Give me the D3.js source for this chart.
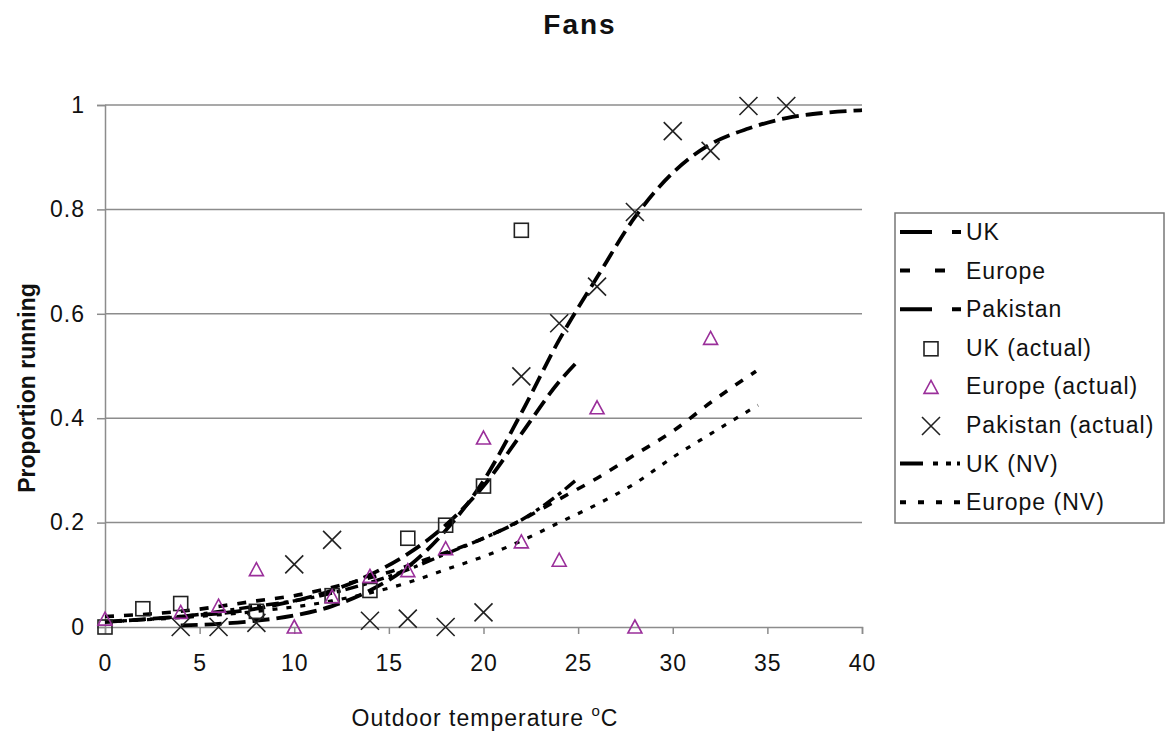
<!DOCTYPE html>
<html><head><meta charset="utf-8">
<script src="https://cdn.jsdelivr.net/npm/d3@7"></script>
<style>
body{margin:0;background:#fff}
svg{display:block}
text{font-family:"Liberation Sans",Arial,sans-serif;fill:#111}
</style>
</head><body>
<svg id="chart" width="1167" height="733"></svg>
<script>
// Axis ticks
const xTicks = [0, 5, 10, 15, 20, 25, 30, 35, 40];
const yTicks = [0, 0.2, 0.4, 0.6, 0.8, 1];
const yTickLabels = ["0", "0.2", "0.4", "0.6", "0.8", "1"];

// Measured proportions of fans running
const ukActualT = [0, 2, 4, 8, 12, 14, 16, 18, 20, 22];
const ukActualP = [0, 0.035, 0.045, 0.03, 0.06, 0.07, 0.17, 0.195, 0.27, 0.76];
const europeActualT = [0, 4, 6, 8, 10, 12, 14, 16, 18, 20, 22, 24, 26, 28, 32];
const europeActualP = [0.015, 0.028, 0.04, 0.11, 0, 0.058, 0.097, 0.108, 0.15, 0.362, 0.163, 0.128, 0.42, 0, 0.553];
const pakistanActualT = [4, 6, 8, 10, 12, 14, 16, 18, 20, 22, 24, 26, 28, 30, 32, 34, 36];
const pakistanActualP = [0, 0, 0.008, 0.12, 0.167, 0.012, 0.016, 0, 0.028, 0.48, 0.582, 0.652, 0.795, 0.95, 0.912, 0.998, 0.998];

// Fitted curves
const ukFitT = [0, 4, 8, 10, 12, 14, 16, 18, 20, 22, 24, 25];
const ukFitP = [0.01, 0.02, 0.035, 0.05, 0.07, 0.1, 0.14, 0.195, 0.27, 0.37, 0.47, 0.51];
const europeFitT = [0, 4, 8, 10, 13, 15, 17, 20, 22, 24, 26, 28, 30, 32, 34.4];
const europeFitP = [0.02, 0.03, 0.05, 0.06, 0.085, 0.105, 0.13, 0.17, 0.205, 0.245, 0.285, 0.33, 0.375, 0.43, 0.49];
const pakistanFitT = [4, 6, 8, 10, 12, 14, 16, 18, 20, 22, 24, 26, 28, 30, 32, 34, 36, 38, 40];
const pakistanFitP = [0.003, 0.006, 0.012, 0.022, 0.04, 0.07, 0.115, 0.185, 0.28, 0.41, 0.55, 0.67, 0.785, 0.87, 0.925, 0.955, 0.975, 0.985, 0.99];
const ukNvFitT = [0, 4, 8, 10, 12, 14, 16, 18, 20, 22, 24, 25];
const ukNvFitP = [0.01, 0.02, 0.04, 0.05, 0.065, 0.085, 0.11, 0.14, 0.17, 0.205, 0.255, 0.285];
const europeNvFitT = [0, 4, 8, 12, 16, 18, 20, 22, 24, 26, 28, 30, 32, 34.5];
const europeNvFitP = [0.01, 0.018, 0.03, 0.05, 0.085, 0.11, 0.135, 0.165, 0.2, 0.235, 0.275, 0.325, 0.37, 0.425];

const zip = (t, p) => t.map((v, i) => ({t: v, p: p[i]}));

const svg = d3.select("#chart");
const x = d3.scaleLinear().domain([0, 40]).range([105, 862]);
const y = d3.scaleLinear().domain([0, 1]).range([627, 105]);

const gridColor = "#8c8c8c";
const purple = "#9a2f9a";
const labelFont = "23px";

// Title
svg.append("text").attr("x", 580).attr("y", 34).attr("text-anchor", "middle")
  .style("font-size", "28px").style("font-weight", "bold").style("letter-spacing", "2px").text("Fans");

// Horizontal gridlines
svg.append("g").selectAll("line").data(yTicks.filter(d => d > 0)).join("line")
  .attr("x1", x(0)).attr("x2", x(40)).attr("y1", d => y(d)).attr("y2", d => y(d))
  .attr("stroke", gridColor).attr("stroke-width", 1.5);

// Axes
const xAxis = d3.axisBottom(x).tickValues(xTicks).tickSize(7).tickPadding(21).tickFormat(d3.format("d"));
const gx = svg.append("g").attr("transform", `translate(0,${y(0)})`).call(xAxis);
const yAxis = d3.axisLeft(y).tickValues(yTicks).tickSize(8).tickPadding(12)
  .tickFormat((d, i) => yTickLabels[i]);
const gy = svg.append("g").attr("transform", `translate(${x(0)},0)`).call(yAxis);
[gx, gy].forEach(g => {
  g.select(".domain").attr("stroke", gridColor).attr("stroke-width", 1.5);
  g.selectAll(".tick line").attr("stroke", gridColor).attr("stroke-width", 1.5);
  g.selectAll(".tick text").style("font-size", labelFont).style("letter-spacing", "1px").attr("fill", "#111")
    .style("font-family", '"Liberation Sans",Arial,sans-serif');
});

// Axis titles
const xt = svg.append("text").attr("x", 485).attr("y", 726).attr("text-anchor", "middle")
  .style("font-size", labelFont).style("letter-spacing", "1px");
xt.append("tspan").text("Outdoor temperature ");
xt.append("tspan").attr("dy", -10).style("font-size", "15px").text("o");
xt.append("tspan").attr("dy", 10).text("C");
svg.append("text").attr("transform", "translate(35,388) rotate(-90)").attr("text-anchor", "middle")
  .style("font-size", "23px").style("font-weight", "bold").text("Proportion running");

// Fitted lines
const line = d3.line().x(d => x(d.t)).y(d => y(d.p)).curve(d3.curveMonotoneX);
const fits = [
  {name: "UK", data: zip(ukFitT, ukFitP), dash: "17,7", width: 3.8, legendDash: "32,20,9,60"},
  {name: "Europe", data: zip(europeFitT, europeFitP), dash: "9,10", width: 3.6, legendDash: "10,25"},
  {name: "Pakistan", data: zip(pakistanFitT, pakistanFitP), dash: "17,7", width: 3.8, legendDash: "32,20,9,60"},
  {name: "UK (NV)", data: zip(ukNvFitT, ukNvFitP), dash: "13,5,4,5", width: 3.4, legendDash: "23,10,5,8,5,6,3,40"},
  {name: "Europe (NV)", data: zip(europeNvFitT, europeNvFitP), dash: "5,9", width: 3.2, legendDash: "6,12"}
];
svg.append("g").selectAll("path").data(fits).join("path")
  .attr("d", d => line(d.data)).attr("fill", "none").attr("stroke", "#000")
  .attr("stroke-width", d => d.width).attr("stroke-dasharray", d => d.dash);

// Markers
const drawSquare = (g, cx, cy) => g.append("rect").attr("x", cx - 7).attr("y", cy - 7).attr("width", 14).attr("height", 14)
  .attr("fill", "none").attr("stroke", "#222").attr("stroke-width", 1.6);
const drawTriangle = (g, cx, cy) => g.append("path")
  .attr("d", `M${cx},${cy - 7}L${cx + 7},${cy + 6}L${cx - 7},${cy + 6}Z`)
  .attr("fill", "none").attr("stroke", purple).attr("stroke-width", 1.6);
const drawCross = (g, cx, cy) => g.append("path")
  .attr("d", `M${cx - 9},${cy - 9}L${cx + 9},${cy + 9}M${cx - 9},${cy + 9}L${cx + 9},${cy - 9}`)
  .attr("stroke", "#222").attr("stroke-width", 1.6);

const mk = svg.append("g");
zip(ukActualT, ukActualP).forEach(d => drawSquare(mk, x(d.t), y(d.p)));
zip(europeActualT, europeActualP).forEach(d => drawTriangle(mk, x(d.t), y(d.p)));
zip(pakistanActualT, pakistanActualP).forEach(d => drawCross(mk, x(d.t), y(d.p)));

// Legend
const lg = svg.append("g");
lg.append("rect").attr("x", 895).attr("y", 213).attr("width", 269).attr("height", 310)
  .attr("fill", "#fff").attr("stroke", "#777").attr("stroke-width", 1.5);
const legendItems = [
  {label: "UK", kind: "line", fit: fits[0]},
  {label: "Europe", kind: "line", fit: fits[1]},
  {label: "Pakistan", kind: "line", fit: fits[2]},
  {label: "UK (actual)", kind: "square"},
  {label: "Europe (actual)", kind: "triangle"},
  {label: "Pakistan (actual)", kind: "cross"},
  {label: "UK (NV)", kind: "line", fit: fits[3]},
  {label: "Europe (NV)", kind: "line", fit: fits[4]}
];
legendItems.forEach((it, i) => {
  const cy = 232 + i * 38.6;
  if (it.kind === "line") {
    lg.append("line").attr("x1", 900).attr("x2", 962).attr("y1", cy).attr("y2", cy)
      .attr("stroke", "#000").attr("stroke-width", 4).attr("stroke-dasharray", it.fit.legendDash);
  } else if (it.kind === "square") drawSquare(lg, 931, cy + 1);
  else if (it.kind === "triangle") drawTriangle(lg, 931, cy + 1);
  else drawCross(lg, 931, cy + 1);
  lg.append("text").attr("x", 966).attr("y", cy + 8).style("font-size", labelFont)
    .style("letter-spacing", "1px").text(it.label);
});
</script>
</body></html>
